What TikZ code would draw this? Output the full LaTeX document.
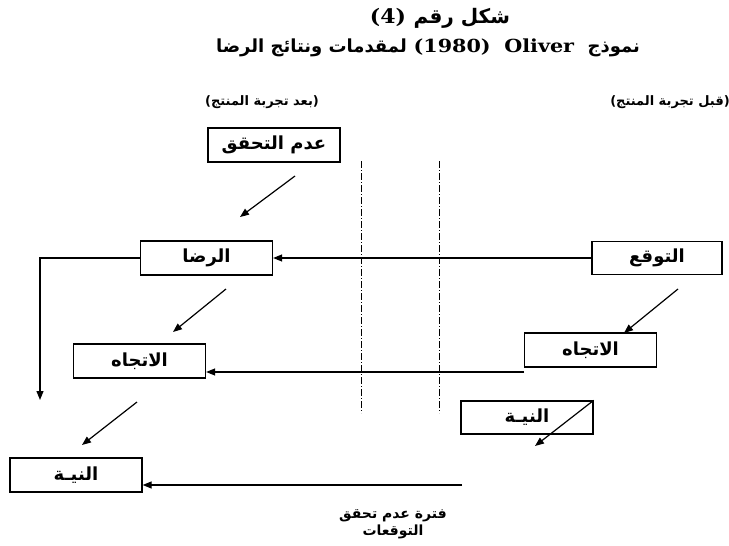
\documentclass[tikz,border=0pt]{standalone}
\usepackage{fontspec}
\TeXXeTstate=1
\newfontfamily\arab[Script=Arabic]{DejaVu Sans}
\newfontfamily\lat{DejaVu Serif}
\usetikzlibrary{arrows.meta}
\begin{document}
\begin{tikzpicture}[x=1pt,y=-1pt,
 box/.style={draw, line width=1.3pt, minimum width=132pt, minimum height=34pt, inner sep=0pt, font=\arab\bfseries\fontsize{18}{20}\selectfont},
 conn/.style={line width=1.2pt, -{Triangle[length=9pt,width=7pt]}},
 sepline/.style={line width=1pt, dash pattern=on 7pt off 2pt on 1pt off 2pt},
 lbl/.style={inner sep=0pt, font=\arab\bfseries\fontsize{13}{15}\selectfont}]
\useasboundingbox (0,0) rectangle (729,546);
% titles
\node[inner sep=0pt, font=\bfseries\fontsize{20}{22}\selectfont] (title) at (440,18) {\beginR{\arab شكل رقم} \beginL{\lat\scalebox{1.1}[1]{(4)}}\endL\endR};
\node[inner sep=0pt, font=\bfseries\fontsize{18}{22}\selectfont] (sub) at (428,48) {\beginR{\arab نموذج}\ \ \beginL{\lat\scalebox{1.15}[1]{Oliver}}\endL\ \ \beginL{\lat\scalebox{1.15}[1]{(1980)}}\endL\ {\arab لمقدمات ونتائج الرضا}\endR};
\node[lbl] (after) at (262,102) {\beginR(بعد تجربة المنتج)\endR};
\node[lbl] (before) at (670,102) {\beginR(قبل تجربة المنتج)\endR};
% boxes
\node[box] (adam) at (274,145) {\beginR عدم التحقق\endR};
\node[box] (rida) at (206.5,258) {الرضا};
\node[box, minimum width=130pt, minimum height=33pt] (tawaqqu) at (657,258) {التوقع};
\node[box] (ittL) at (139.5,361) {الاتجاه};
\node[box] (ittR) at (590.5,350) {الاتجاه};
\node[box, minimum height=33pt] (niyaR) at (527,417.5) {النيـة};
\node[box] (niyaL) at (76,475) {النيـة};
% separators
\coordinate (s1t) at (361,161); \coordinate (s1b) at (361,413);
\coordinate (s2t) at (439,161); \coordinate (s2b) at (439,413);
\draw[sepline] (s1t) -- (s1b);
\draw[sepline] (s2t) -- (s2b);
% horizontal connectors
\draw[conn] (tawaqqu.west) -- (tawaqqu.west -| rida.east);
\coordinate (down) at (40,400);
\draw[conn] (rida.west) -| (down);
\coordinate (h2) at (524,372);
\draw[conn] (h2) -- (h2 -| ittL.east);
\coordinate (h3) at (462,485);
\draw[conn] (h3) -- (h3 -| niyaL.east);
% diagonal arrows
\coordinate (d1s) at (295,176); \coordinate (d1e) at (240,217);
\draw[conn] (d1s) -- (d1e);
\coordinate (d2s) at (226,289); \coordinate (d2e) at (173,332);
\draw[conn] (d2s) -- (d2e);
\coordinate (d3s) at (678,289); \coordinate (d3e) at (624,333);
\draw[conn] (d3s) -- (d3e);
\coordinate (d4e) at (535,446);
\draw[conn] (niyaR.north east) -- (d4e);
\coordinate (d5s) at (137,402); \coordinate (d5e) at (82,445);
\draw[conn] (d5s) -- (d5e);
% bottom label
\node[lbl, align=center, font=\arab\bfseries\fontsize{14}{17}\selectfont] (period) at (393,524) {\beginR فترة عدم تحقق\endR\\التوقعات};
\end{tikzpicture}
\end{document}
